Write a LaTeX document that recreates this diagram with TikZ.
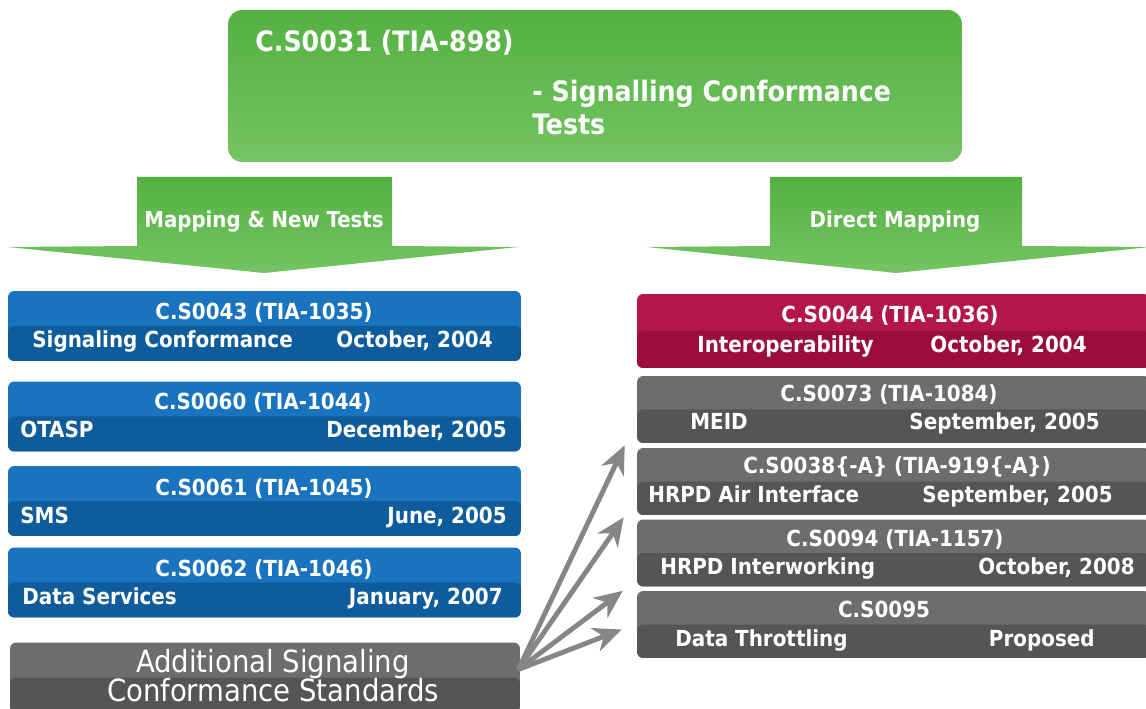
\documentclass[tikz,border=0pt]{standalone}
\usepackage{fontspec}
\setmainfont{DejaVu Sans Condensed}
\usetikzlibrary{arrows.meta,positioning}
\definecolor{grnTop}{HTML}{55B142}
\definecolor{grnBot}{HTML}{74C463}
\definecolor{bluTop}{HTML}{1A73BE}
\definecolor{bluBot}{HTML}{0F5C9C}
\definecolor{redTop}{HTML}{B3164A}
\definecolor{redBot}{HTML}{9B0E3B}
\definecolor{gryTop}{HTML}{6C6D6F}
\definecolor{gryBot}{HTML}{545557}
\definecolor{fanGray}{HTML}{868686}
\tikzset{
    raw std box/.style={rectangle, rounded corners=3.5pt, inner sep=0pt, minimum width=10.26cm, minimum height=1.4cm},
    two tone/.style 2 args={fill=#1, path picture={\fill[#2] (path picture bounding box.west) rectangle (path picture bounding box.south east);}},
    blue std/.style={raw std box, two tone={bluTop}{bluBot}},
    red std/.style={raw std box, two tone={redTop}{redBot}, minimum height=1.48cm},
    gray std/.style={raw std box, two tone={gryTop}{gryBot}, minimum height=1.34cm},
    std text/.style={text=white, font=\bfseries\fontsize{12.6}{14}\selectfont, inner sep=0pt},
    std title/.style={std text, anchor=base},
    std left/.style={std text, anchor=base west},
    std right/.style={std text, anchor=base east},
    big arrow/.style={top color=grnTop, bottom color=grnBot, draw=none},
    fan/.style={draw=fanGray, line width=2.8pt, -{Stealth[length=16pt, width=14pt, inset=5pt]}}
}
\begin{document}
\begin{tikzpicture}[x=0.02cm, y=-0.02cm]
    \useasboundingbox (0,0) rectangle (1146,709);
    % top spec
    \node[rectangle, rounded corners=8pt, minimum width=14.68cm, minimum height=3.04cm, top color=grnTop, bottom color=grnBot] (spec) at (595,86) {};
    \node[std text, anchor=base west, font=\bfseries\fontsize{16}{19}\selectfont] (specId) at (255,52) {C.S0031 (TIA-898)};
    \node[std text, anchor=base west, font=\bfseries\fontsize{16}{19}\selectfont] (specName) at (532,102) {- Signalling Conformance};
    \node[std text, anchor=base west, font=\bfseries\fontsize{16}{19}\selectfont] (specTail) at (532,135) {Tests};
    % the two block arrows
    \path[big arrow] (137,177) -- (392,177) -- (392,246) -- (518,247) -- (264,273) -- (8,247) -- (137,246) -- cycle;
    \path[big arrow] (770,177) -- (1022,177) -- (1022,246) -- (1150,247) -- (896,273) -- (647,247) -- (770,246) -- cycle;
    \node[std text, font=\bfseries\fontsize{12.5}{15}\selectfont, anchor=base] (mapNew) at (264,228) {Mapping \& New Tests};
    \node[std text, font=\bfseries\fontsize{12.5}{15}\selectfont, anchor=base] (mapDirect) at (895,228) {Direct Mapping};
    % left column
    \node[blue std] (s43) at (264.5,326) {};
    \node[std title] at (264,320) {C.S0043 (TIA-1035)};
    \node[std left] at (32,348) {Signaling Conformance};
    \node[std right] at (493,348) {October, 2004};
    \node[blue std] (s60) at (264.5,416.5) {};
    \node[std title] at (263,410) {C.S0060 (TIA-1044)};
    \node[std left] at (20,438) {OTASP};
    \node[std right] at (507,438) {December, 2005};
    \node[blue std] (s61) at (264.5,501) {};
    \node[std title] at (264,495) {C.S0061 (TIA-1045)};
    \node[std left] at (20,523) {SMS};
    \node[std right] at (507,523) {June, 2005};
    \node[blue std] (s62) at (264.5,582.5) {};
    \node[std title] at (264,576) {C.S0062 (TIA-1046)};
    \node[std left] at (22,604) {Data Services};
    \node[std right] at (503,604) {January, 2007};
    \node[raw std box, two tone={gryTop}{gryBot}, minimum width=10.2cm] (add) at (265,677.5) {};
    \node[std text, font=\fontsize{17.4}{20}\selectfont, anchor=base] at (273,672) {Additional Signaling};
    \node[std text, font=\fontsize{17.4}{20}\selectfont, anchor=base] at (273,701) {Conformance Standards};
    % right column
    \node[red std] (s44) at (893.5,331) {};
    \node[std title] at (890,323) {C.S0044 (TIA-1036)};
    \node[std left] at (697,353) {Interoperability};
    \node[std right] at (1087,353) {October, 2004};
    \node[gray std] (s73) at (893.5,409.5) {};
    \node[std title] at (889,401) {C.S0073 (TIA-1084)};
    \node[std left] at (690,430) {MEID};
    \node[std right] at (1100,430) {September, 2005};
    \node[gray std] (s38) at (893.5,481.5) {};
    \node[std title] at (897,473) {C.S0038\{-A\} (TIA-919\{-A\})};
    \node[std left] at (648,502) {HRPD Air Interface};
    \node[std right] at (1113,502) {September, 2005};
    \node[gray std] (s94) at (893.5,553) {};
    \node[std title] at (895,546) {C.S0094 (TIA-1157)};
    \node[std left] at (660,574) {HRPD Interworking};
    \node[std right] at (1135,574) {October, 2008};
    \node[gray std] (s95) at (893.5,624.5) {};
    \node[std title] at (884,617) {C.S0095};
    \node[std left] at (675,646) {Data Throttling};
    \node[std right] at (1095,646) {Proposed};
    % fan of arrows from the additional standards
    \coordinate (fanSrc) at ([shift={(-2,-8)}]add.east);
    \draw[fan] (fanSrc) -- ([shift={(-12,2)}]s73.south west);
    \draw[fan] (fanSrc) -- ([shift={(-13,2)}]s38.south west);
    \draw[fan] (fanSrc) -- ([shift={(-14,4)}]s94.south west);
    \draw[fan] (fanSrc) -- ([shift={(-15,5)}]s95.west);
\end{tikzpicture}
\end{document}
